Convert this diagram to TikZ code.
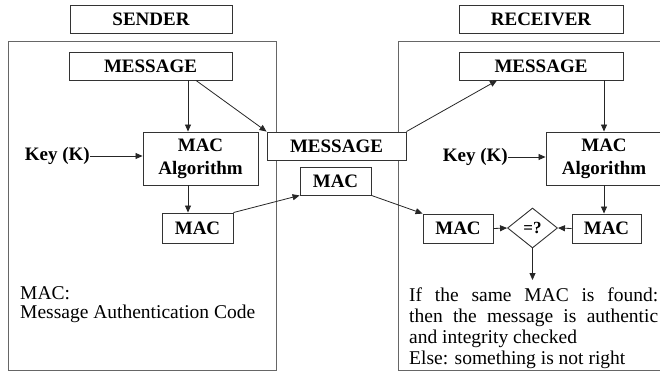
\documentclass[tikz,border=0pt]{standalone}
\usepackage{fontspec}
\setmainfont{Liberation Serif}
\usetikzlibrary{arrows.meta,shapes.geometric}
\begin{document}
\begin{tikzpicture}[x=1pt,y=-1pt,
  box/.style={draw=black!80, line width=0.9pt, fill=white, inner sep=0pt,
    font=\fontsize{19}{23}\selectfont\bfseries, align=center},
  frame/.style={draw=black!60, line width=0.8pt, inner sep=0pt},
  arr/.style={draw=black!85, line width=0.8pt, -{Triangle[length=7pt,width=6pt]}},
  lbl/.style={inner sep=0pt, font=\fontsize{19}{23}\selectfont\bfseries},
  txt/.style={inner sep=0pt, font=\fontsize{19.5}{19.5}\selectfont}]
\useasboundingbox (0,0) rectangle (660,371);
% frames
\node[frame, minimum width=268pt, minimum height=329pt] (frS) at (142,205.5) {};
\node[frame, minimum width=272pt, minimum height=329pt] (frR) at (534,205.5) {};
% titles
\node[box, minimum width=162pt, minimum height=28pt] (titS) at (151,19) {SENDER};
\node[box, minimum width=164pt, minimum height=28pt] (titR) at (541,19) {RECEIVER};
% sender
\node[box, minimum width=163pt, minimum height=28pt] (msgS) at (150.5,66) {MESSAGE};
\node[box, minimum width=115pt, minimum height=53pt] (algS) at (200.5,158.5) {MAC\\Algorithm};
\node[lbl, anchor=east] (keyS) at (90,156) {Key (K)};
\node[box, minimum width=71pt, minimum height=30pt] (macS) at (197.5,228) {MAC};
\node[txt, anchor=north west, align=left] (defS) at (20,286) {MAC:\\Message Authentication Code};
% middle
\node[box, minimum width=139pt, minimum height=28pt] (msgM) at (336.5,146) {MESSAGE};
\node[box, minimum width=71pt, minimum height=28pt] (macM) at (335.5,181) {MAC};
% receiver
\node[box, minimum width=164pt, minimum height=28pt] (msgR) at (541,66) {MESSAGE};
\node[box, minimum width=116pt, minimum height=53pt] (algR) at (604,158.5) {MAC\\Algorithm};
\node[lbl, anchor=east] (keyR) at (508,157) {Key (K)};
\node[box, minimum width=70pt, minimum height=29pt] (macR1) at (458,228.5) {MAC};
\node[box, minimum width=69pt, minimum height=29pt] (macR2) at (606.5,228.5) {MAC};
\node[box, diamond, aspect=1.25, minimum width=50pt, minimum height=40pt, font=\fontsize{17}{20}\selectfont\bfseries] (eq) at (532.5,228) {=?};
\node[txt, anchor=north west, text width=249pt, align=justify, font=\fontsize{19.5}{20.7}\selectfont] (res) at (409,288)
  {If the same MAC is found:\linebreak then the message is authentic\linebreak and integrity checked\par Else: something is not right};
% helper coordinates
\coordinate (xS) at (188,0);
\coordinate (xS2) at (196,0);
\coordinate (xR) at (604,0);
\coordinate (xR2) at (497,0);
\coordinate (out) at (532.5,280);
% arrows
\draw[arr] (msgS.south -| xS) -- (algS.north -| xS);
\draw[arr] (msgS.south -| xS2) -- (msgM.north west);
\draw[arr] (keyS.east) -- (algS.west |- keyS.east);
\draw[arr] (algS.south -| xS) -- (macS.north -| xS);
\draw[arr] (macS.north east) -- (macM.south west);
\draw[arr] (msgM.north east) -- (msgR.south -| xR2);
\draw[arr] (msgR.south -| xR) -- (algR.north -| xR);
\draw[arr] (keyR.east) -- (algR.west |- keyR.east);
\draw[arr] (algR.south -| xR) -- (macR2.north -| xR);
\draw[arr] (macM.south east) -- (macR1.north west);
\draw[arr] (macR1.east) -- (eq.west);
\draw[arr] (macR2.west) -- (eq.east);
\draw[arr] (eq.south) -- (out);
\end{tikzpicture}
\end{document}
